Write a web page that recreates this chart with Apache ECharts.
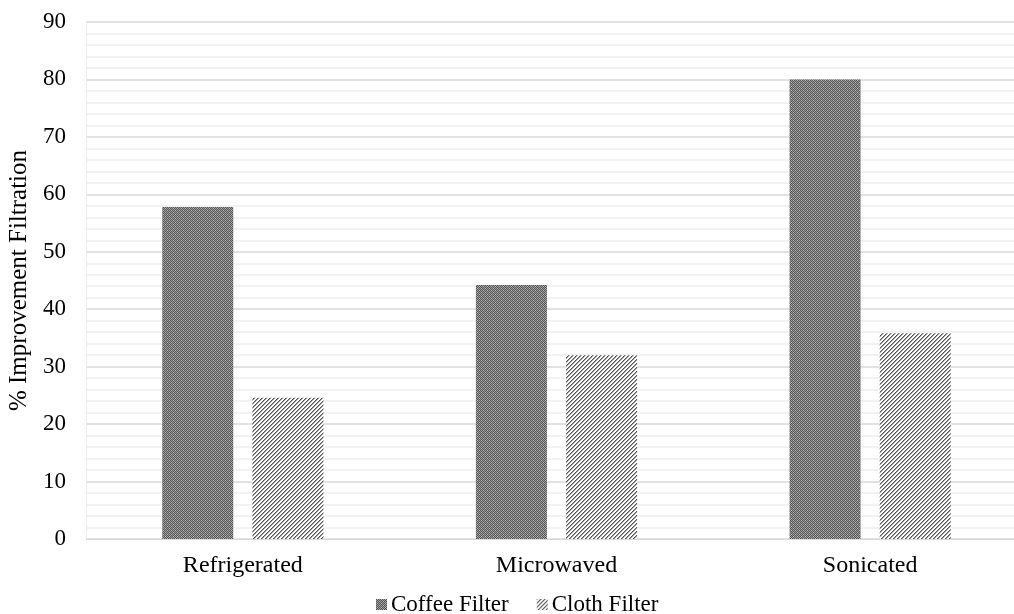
<!DOCTYPE html>
<html>
<head>
<meta charset="utf-8">
<script src="https://cdn.jsdelivr.net/npm/echarts@6/dist/echarts.min.js"></script>
<style>
  html, body { margin: 0; padding: 0; background: #fff; overflow: hidden; }
  /* plot area runs slightly past the right edge of the page */
  #chart { width: 1027px; height: 614px; }
</style>
</head>
<body>
<div id="chart"></div>
<script>
// Treatment groups and filtration improvement (%)
const categories = ['Refrigerated', 'Microwaved', 'Sonicated'];
const coffeeFilter = [57.8, 44.2, 80.0];
const clothFilter = [24.6, 32.0, 35.8];
const seriesNames = ['Coffee Filter', 'Cloth Filter'];
const yTicks = { min: 0, max: 90, interval: 10 };

// Fine dotted fill for the coffee filter bars
function dotPattern() {
  const c = document.createElement('canvas');
  c.width = 4; c.height = 4;
  const g = c.getContext('2d');
  g.fillStyle = '#9a9a9a';
  g.fillRect(0, 0, 4, 4);
  g.fillStyle = '#555555';
  for (let y = 0; y < 4; y++) {
    for (let x = 0; x < 4; x++) {
      if ((x + y) % 2 === 0) g.fillRect(x, y, 1, 1);
    }
  }
  g.fillStyle = '#bdbdbd';
  g.fillRect(1, 0, 1, 1);
  g.fillRect(3, 2, 1, 1);
  return c;
}

// Diagonal hatch fill for the cloth filter bars
function hatchPattern() {
  const c = document.createElement('canvas');
  c.width = 4; c.height = 4;
  const g = c.getContext('2d');
  g.fillStyle = '#ffffff';
  g.fillRect(0, 0, 4, 4);
  for (let i = 0; i < 4; i++) {
    g.fillStyle = '#555555';
    g.fillRect(3 - i, i, 1, 1);
    g.fillStyle = '#a0a0a0';
    g.fillRect((4 - i) % 4, i, 1, 1);
  }
  return c;
}

const coffeeFill = { image: dotPattern(), repeat: 'repeat' };
const clothFill = { image: hatchPattern(), repeat: 'repeat' };

const chart = echarts.init(document.getElementById('chart'), null, { renderer: 'canvas' });
const font = 'Liberation Serif';

chart.setOption({
  animation: false,
  backgroundColor: '#ffffff',
  grid: {
    left: 86, top: 22, right: 0, height: 517,
    containLabel: false, outerBoundsMode: 'none'
  },
  legend: {
    top: 588,
    left: 371,
    itemWidth: 11,
    itemHeight: 11,
    itemGap: 28,
    icon: 'rect',
    textStyle: { fontFamily: font, fontSize: 23, color: '#000', padding: [0, 0, 0, -1] },
    data: seriesNames
  },
  xAxis: {
    type: 'category',
    data: categories,
    axisLine: { show: true, lineStyle: { color: '#d9d9d9', width: 1 } },
    axisTick: { show: false },
    axisLabel: { fontFamily: font, fontSize: 24, color: '#000', margin: 15 }
  },
  yAxis: {
    type: 'value',
    min: yTicks.min,
    max: yTicks.max,
    interval: yTicks.interval,
    name: '% Improvement Filtration',
    nameLocation: 'middle',
    nameGap: 50,
    nameTextStyle: { fontFamily: font, fontSize: 25, color: '#000' },
    axisLine: { show: true, lineStyle: { color: '#ececec' } },
    axisTick: { show: false },
    axisLabel: { fontFamily: font, fontSize: 23, color: '#000', margin: 20 },
    splitLine: { lineStyle: { color: '#d9d9d9', width: 1.5 } },
    minorTick: { show: false, splitNumber: 5 },
    minorSplitLine: { show: true, lineStyle: { color: '#eeeeee', width: 1.5 } }
  },
  series: [
    {
      name: seriesNames[0],
      type: 'bar',
      data: coffeeFilter,
      barWidth: 71,
      barGap: '27%',
      itemStyle: { color: coffeeFill }
    },
    {
      name: seriesNames[1],
      type: 'bar',
      data: clothFilter,
      barWidth: 71,
      itemStyle: { color: clothFill }
    }
  ]
});
</script>
</body>
</html>
